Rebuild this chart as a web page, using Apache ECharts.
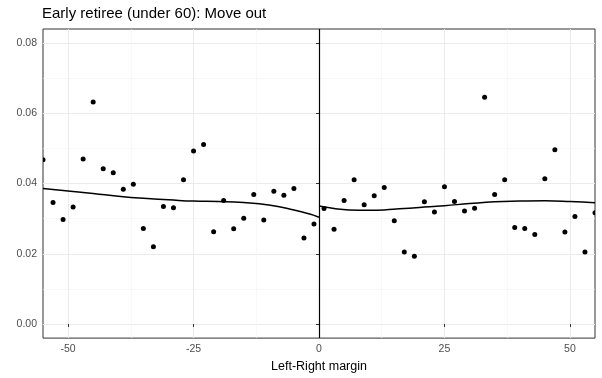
<!DOCTYPE html>
<html>
<head>
<meta charset="utf-8">
<script src="https://cdn.jsdelivr.net/npm/echarts@6/dist/echarts.min.js"></script>
<style>html,body{margin:0;padding:0;background:#fff}#c{width:602px;height:378px}</style>
</head>
<body>
<div id="c"></div>
<script>
const titleText = 'Early retiree (under 60): Move out';
const xName = 'Left-Right margin';
const xTicks = [-50, -25, 0, 25, 50];
const xMinor = [-37.5, -12.5, 12.5, 37.5];
const yTicks = [0, 0.02, 0.04, 0.06, 0.08];
const yMinor = [0.01, 0.03, 0.05, 0.07];

const leftX = [-55,-53,-51,-49,-47,-45,-43,-41,-39,-37,-35,-33,-31,-29,-27,-25,-23,-21,-19,-17,-15,-13,-11,-9,-7,-5,-3,-1];
const leftY = [0.0468,0.0346,0.0298,0.0333,0.0470,0.0632,0.0442,0.0431,0.0384,0.0398,0.0272,0.0220,0.0335,0.0331,0.0411,0.0493,0.0511,0.0263,0.0352,0.0271,0.0301,0.0369,0.0296,0.0378,0.0367,0.0386,0.0245,0.0285];
const rightX = [1,3,5,7,9,11,13,15,17,19,21,23,25,27,29,31,33,35,37,39,41,43,45,47,49,51,53,55];
const rightY = [0.0329,0.0270,0.0352,0.0411,0.0340,0.0365,0.0389,0.0294,0.0205,0.0193,0.0348,0.0319,0.0391,0.0349,0.0322,0.0330,0.0646,0.0369,0.0411,0.0275,0.0272,0.0255,0.0414,0.0496,0.0262,0.0306,0.0205,0.0317];

const fitLeftX = [-55,-50,-45,-40,-35,-30,-25,-20,-15,-10,-5,-2,0];
const fitLeftY = [0.0386,0.0379,0.0372,0.0364,0.0358,0.0354,0.0350,0.0349,0.0346,0.0339,0.0325,0.0314,0.0304];
const fitRightX = [0,3,6,10,13,16,20,25,30,35,40,45,50,55];
const fitRightY = [0.0336,0.0329,0.0325,0.0324,0.0325,0.0328,0.0332,0.0337,0.0343,0.0348,0.0350,0.0351,0.0349,0.0345];

const cutoff = 0;
const xMin = -55, xMax = 55, yMin = -0.004, yMax = 0.084;

const zip = (a, b) => a.map((v, i) => [v, b[i]]);
const font = 'Liberation Sans, Arial, Helvetica, sans-serif';

const chart = echarts.init(document.getElementById('c'), null, {renderer: 'canvas'});

const dotSeries = (xs, ys) => ({
  type: 'custom',
  xAxisIndex: 0, yAxisIndex: 0,
  clip: true,
  data: zip(xs, ys),
  encode: {x: 0, y: 1},
  renderItem: function (params, api) {
    const p = api.coord([api.value(0), api.value(1)]);
    return {type: 'circle', shape: {cx: p[0], cy: p[1], r: 2.5}, style: {fill: '#000'}};
  },
  z: 5
});

const lineSeries = (xs, ys, extra) => Object.assign({
  type: 'line',
  xAxisIndex: 0, yAxisIndex: 0,
  data: zip(xs, ys),
  smooth: true,
  showSymbol: false,
  symbol: 'none',
  lineStyle: {color: '#000', width: 1.5},
  clip: true,
  z: 4
}, extra || {});

chart.setOption({
  animation: false,
  backgroundColor: '#fff',
  title: {
    text: titleText, left: 42, top: 6, padding: 0,
    textStyle: {fontFamily: font, fontSize: 15, fontWeight: 'normal', color: '#000'}
  },
  grid: {left: 43, right: 7, top: 29, bottom: 39, show: true, borderColor: '#333', borderWidth: 1, backgroundColor: 'transparent', containLabel: false},
  xAxis: [
    {
      type: 'value', min: xMin, max: xMax, position: 'bottom',
      name: xName, nameLocation: 'middle', nameGap: 16,
      nameTextStyle: {fontFamily: font, fontSize: 12.5, color: '#000'},
      axisLine: {show: false},
      axisTick: {show: true, length: 3, customValues: xTicks, lineStyle: {color: '#333', width: 1}},
      axisLabel: {customValues: xTicks, fontFamily: font, fontSize: 10.5, color: '#4d4d4d', margin: 6},
      splitLine: {show: true, lineStyle: {color: '#ebebeb', width: 1}}
    },
    {
      type: 'value', min: xMin, max: xMax, position: 'top',
      axisLine: {show: false},
      axisTick: {show: false, customValues: xMinor},
      axisLabel: {show: false, customValues: xMinor},
      splitLine: {show: true, lineStyle: {color: '#f3f3f3', width: 0.6}}
    }
  ],
  yAxis: [
    {
      type: 'value', min: yMin, max: yMax,
      axisLine: {show: false},
      axisTick: {show: true, length: 3, customValues: yTicks, lineStyle: {color: '#333', width: 1}},
      axisLabel: {customValues: yTicks, fontFamily: font, fontSize: 10.5, color: '#4d4d4d', margin: 6,
        formatter: v => v.toFixed(2)},
      splitLine: {show: true, lineStyle: {color: '#ebebeb', width: 1}}
    },
    {
      type: 'value', min: yMin, max: yMax, position: 'right',
      axisLine: {show: false},
      axisTick: {show: false, customValues: yMinor},
      axisLabel: {show: false, customValues: yMinor},
      splitLine: {show: true, lineStyle: {color: '#f3f3f3', width: 0.6}}
    }
  ],
  series: [
    lineSeries(fitLeftX, fitLeftY, {
      markLine: {
        silent: true, symbol: 'none', label: {show: false},
        lineStyle: {color: '#000', width: 1.2, type: 'solid'},
        data: [{xAxis: cutoff}]
      }
    }),
    lineSeries(fitRightX, fitRightY),
    dotSeries(leftX, leftY),
    dotSeries(rightX, rightY)
  ]
});
</script>
</body>
</html>
